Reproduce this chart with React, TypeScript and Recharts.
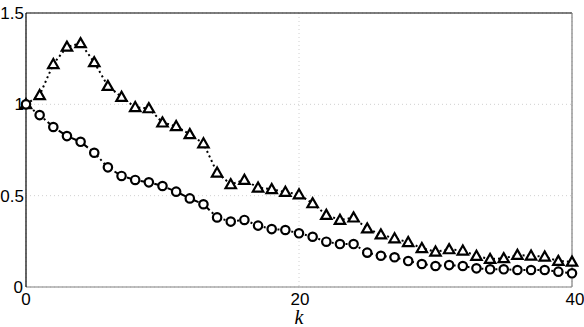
import { LineChart, Line, XAxis, YAxis, CartesianGrid, ReferenceLine } from "recharts";

// k = 0..40
const kValues = Array.from({ length: 41 }, (_, i) => i);

// triangle series (dotted line)
const triangleSeries = [
  1.0, 1.05, 1.22, 1.315, 1.334, 1.23, 1.1, 1.04, 0.984, 0.978,
  0.9, 0.88, 0.836, 0.786, 0.626, 0.562, 0.586, 0.544, 0.535, 0.52,
  0.507, 0.458, 0.394, 0.367, 0.38, 0.32, 0.287, 0.266, 0.245, 0.212,
  0.193, 0.206, 0.199, 0.17, 0.153, 0.157, 0.175, 0.171, 0.166, 0.142,
  0.138,
];

// circle series (dash-dot line)
const circleSeries = [
  1.0, 0.941, 0.876, 0.826, 0.795, 0.735, 0.655, 0.608, 0.586, 0.573,
  0.553, 0.522, 0.485, 0.453, 0.381, 0.358, 0.367, 0.336, 0.317, 0.312,
  0.294, 0.275, 0.248, 0.235, 0.235, 0.188, 0.171, 0.163, 0.142, 0.126,
  0.115, 0.12, 0.115, 0.102, 0.097, 0.097, 0.093, 0.093, 0.093, 0.084,
  0.075,
];

const xTicks = [0, 20, 40];
const yTicks = [0, 0.5, 1, 1.5];

const data = kValues.map((k, i) => ({ k, tri: triangleSeries[i], circ: circleSeries[i] }));

const TriangleDot = (props: any) => {
  const { cx, cy, index } = props;
  if (cx == null || cy == null) return null;
  const s = 5.2;
  const pts = `${cx},${cy - s} ${cx - s},${cy + s * 0.75} ${cx + s},${cy + s * 0.75}`;
  return <polygon key={`t-${index}`} points={pts} fill="#fff" stroke="#000" strokeWidth={2.2} strokeLinejoin="miter" />;
};

const CircleDot = (props: any) => {
  const { cx, cy, index } = props;
  if (cx == null || cy == null) return null;
  return <circle key={`c-${index}`} cx={cx} cy={cy} r={4.2} fill="#fff" stroke="#000" strokeWidth={2.2} />;
};

const FONT = "Liberation Sans, Arial, sans-serif";

const XTick = (props: any) => {
  const { x, payload } = props;
  const shift = payload.value === 40 ? 3 : payload.value === 20 ? 1 : 0;
  return (
    <text x={x + shift} y={305} textAnchor="middle" fontFamily={FONT} fontSize={17} fill="#000">
      {payload.value}
    </text>
  );
};

const YTick = (props: any) => {
  const { y, payload } = props;
  const isZero = payload.value === 0;
  return (
    <text x={isZero ? 23 : 24} y={y + 6} textAnchor="end" fontFamily={FONT} fontSize={17} fill="#000">
      {payload.value}
    </text>
  );
};

const App = () => {
  return (
    <div style={{ position: "absolute", left: 0, top: 0, background: "#fff" }}>
      <LineChart width={584} height={327} data={data} margin={{ top: 13, right: 12, bottom: 0, left: 0 }}>
        <CartesianGrid stroke="#d0d0d0" strokeDasharray="1 3" />
        <XAxis
          dataKey="k"
          type="number"
          domain={[0, 40]}
          ticks={xTicks}
          interval={0}
          height={40}
          tickLine={false}
          tick={XTick}
          axisLine={{ stroke: "#808080", strokeWidth: 1.2 }}
          label={{
            value: "k",
            position: "insideBottom",
            offset: 3,
            style: { fontFamily: "Liberation Serif, serif", fontStyle: "italic", fontSize: 20, fill: "#000" },
          }}
        />
        <YAxis
          type="number"
          domain={[0, 1.5]}
          ticks={yTicks}
          interval={0}
          width={26}
          tickLine={false}
          tick={YTick}
          axisLine={{ stroke: "#000", strokeWidth: 1.2 }}
        />
        <ReferenceLine y={1.5} stroke="#000" strokeWidth={1.2} />
        <ReferenceLine x={40} stroke="#808080" strokeWidth={1.2} />
        <Line
          dataKey="tri"
          stroke="#000"
          strokeWidth={2}
          strokeDasharray="2 3"
          dot={TriangleDot}
          isAnimationActive={false}
        />
        <Line
          dataKey="circ"
          stroke="#000"
          strokeWidth={2}
          strokeDasharray="6 3 2 3"
          dot={CircleDot}
          isAnimationActive={false}
        />
      </LineChart>
    </div>
  );
};

export default App;
